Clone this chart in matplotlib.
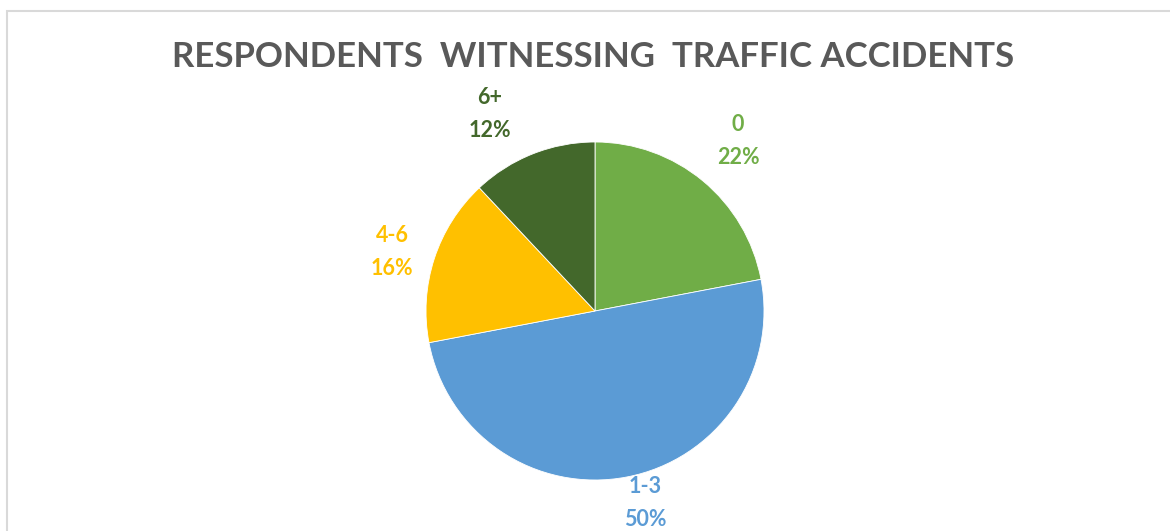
import matplotlib.pyplot as plt
from matplotlib.patches import Rectangle

categories = ["0", "1-3", "4-6", "6+"]
shares = [22, 50, 16, 12]
colors = ["#70AD47", "#5B9BD5", "#FFC000", "#43682B"]
# where each data label sits (pixel coords, from top-left)
label_pos = [(738, 141), (645, 503), (392, 252), (490, 114)]

W, H = 1170, 531
fig = plt.figure(figsize=(W / 100, H / 100), dpi=100)
ax = fig.add_axes([0, 0, 1, 1])

# chart border (top / left visible, rest cut off)
ax.add_patch(Rectangle((6.5, -20), W + 20, H - 10.5 + 20, fill=False,
                       edgecolor="#D9D9D9", linewidth=1.5))

ax.pie(shares, colors=colors, startangle=90, counterclock=False,
       center=(595, H - 311), radius=169,
       wedgeprops=dict(linewidth=0.6, edgecolor="white"), frame=True)
ax.set_xlim(0, W)
ax.set_ylim(0, H)
ax.axis("off")

for cat, val, col, (x, y) in zip(categories, shares, colors, label_pos):
    ax.text(x, H - y, f"{cat}\n{val}%", color=col, ha="center", va="center",
            fontsize=15.5, fontweight="bold", family="Lato", linespacing=1.75)

ax.text(593, H - 57, "RESPONDENTS  WITNESSING  TRAFFIC ACCIDENTS",
        ha="center", va="center", fontsize=25, fontweight="bold",
        family="Lato", color="#595959")

fig.savefig("out.png", dpi=100)
